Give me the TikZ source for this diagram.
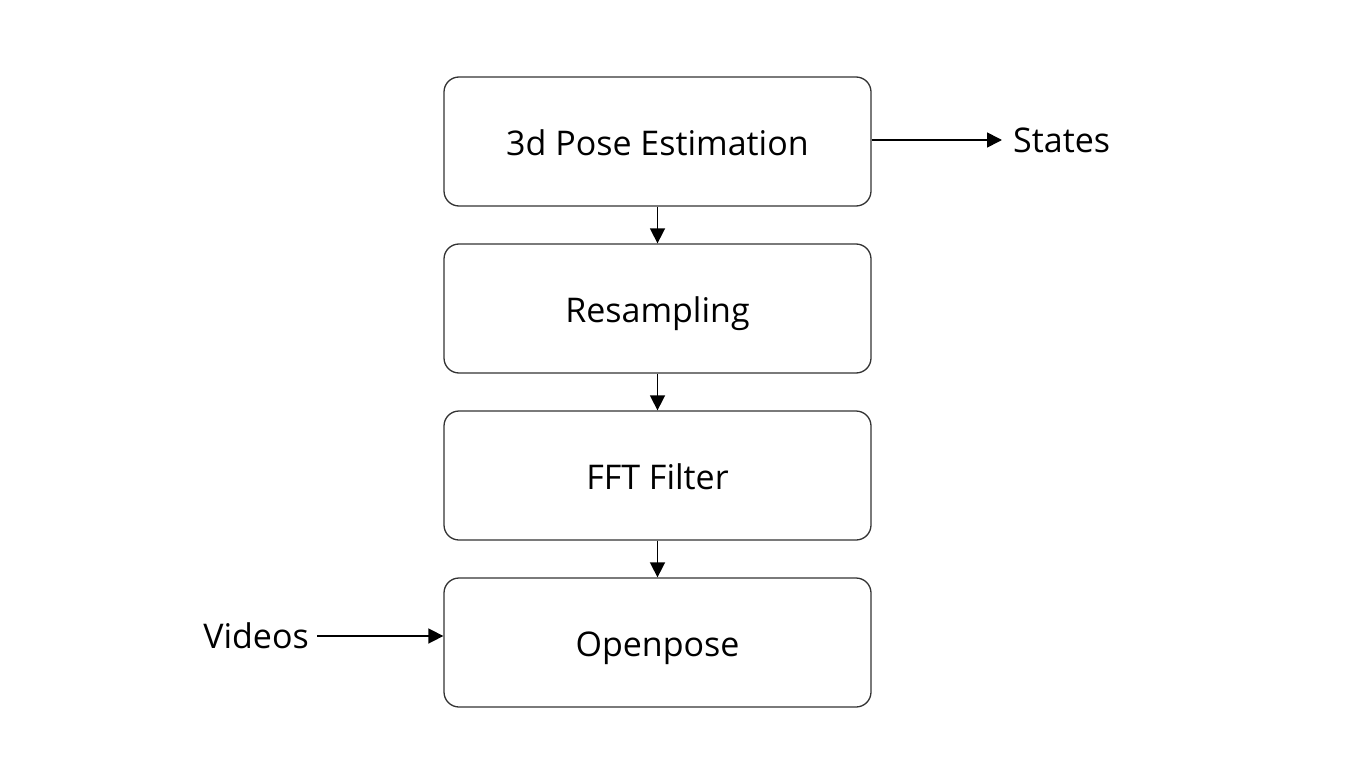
\documentclass[tikz,border=0pt]{standalone}
\usepackage{fontspec}
\setmainfont{Open Sans}
\usetikzlibrary{arrows.meta}
\begin{document}
\begin{tikzpicture}[x=1pt,y=-1pt,
  stage/.style={draw=black!80,line width=1.3pt,rounded corners=15pt,minimum width=427pt,minimum height=129pt,inner sep=0pt,text height=34pt,text depth=6pt,font=\fontsize{34}{40}\selectfont},
  lbl/.style={font=\fontsize{34}{40}\selectfont,inner sep=0pt},
  conn/.style={line width=1.6pt,-{Triangle[length=15pt,width=15pt]}}]
\useasboundingbox (0,0) rectangle (1366,768);
\node[stage] (pose) at (657.5,141.5) {3d Pose Estimation};
\node[stage] (res) at (657.5,308.5) {Resampling};
\node[stage] (fft) at (657.5,475.5) {FFT Filter};
\node[stage] (op) at (657.5,642.5) {Openpose};
\node[lbl,anchor=west] (states) at (1013,140) {States};
\node[lbl,anchor=east] (videos) at (309,636) {Videos};
\coordinate (stip) at (1002,140);
\coordinate (vstart) at (317,636);
\draw[conn] (pose.south) -- (res.north);
\draw[conn] (res.south) -- (fft.north);
\draw[conn] (fft.south) -- (op.north);
\draw[conn] (pose.east |- stip) -- (stip);
\draw[conn] (vstart) -- (op.west |- vstart);
\end{tikzpicture}
\end{document}
